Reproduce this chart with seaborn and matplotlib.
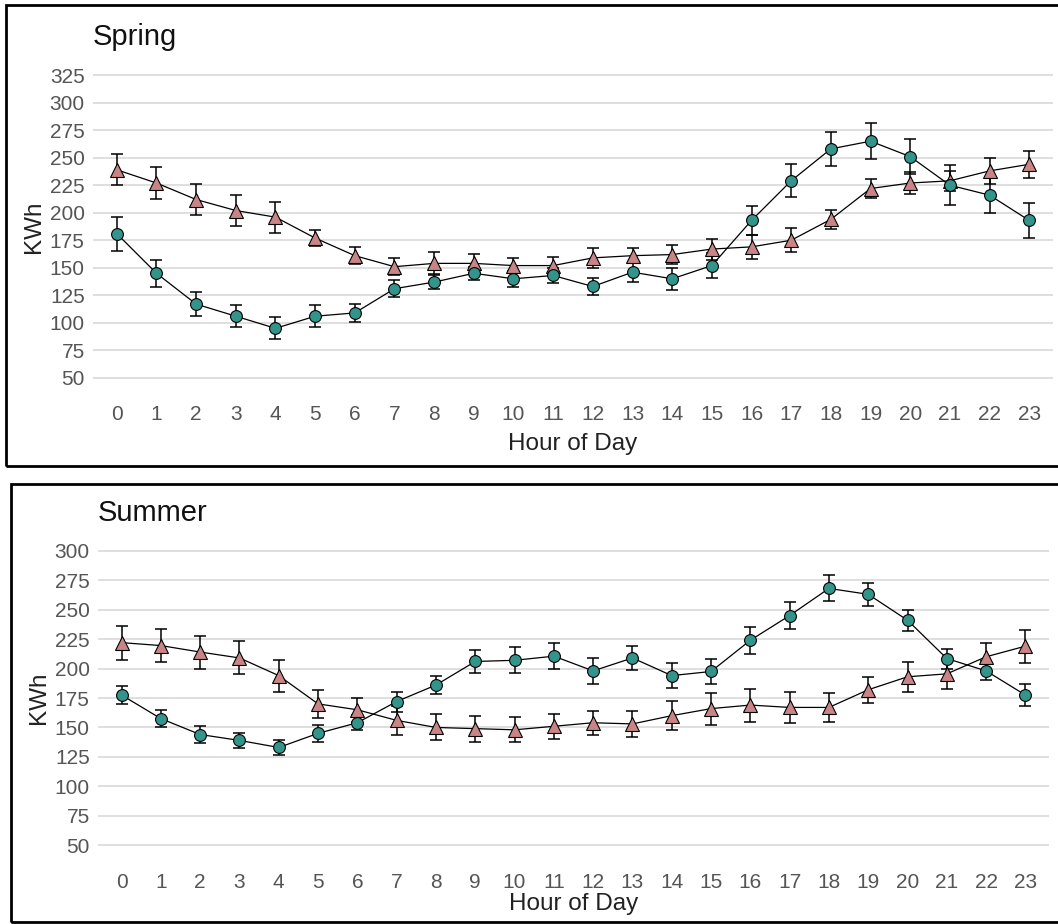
import numpy as np
import pandas as pd
import matplotlib
matplotlib.use("Agg")
import matplotlib.pyplot as plt
from matplotlib.patches import Rectangle
import seaborn as sns

# -------- data --------
HOURS = list(range(24))

spring_red = [239, 227, 212, 202, 196, 177, 161, 151, 154, 154, 152, 152,
              159, 161, 162, 167, 169, 175, 194, 222, 227, 229, 238, 244]
spring_red_err = [14, 14.5, 14, 14, 14, 7, 7.5, 7.5, 10, 8.5, 7, 7.5,
                  9, 7, 8.5, 9.5, 11, 11, 8.5, 8.5, 10, 9, 12, 12.5]
spring_green = [181, 145, 117, 106, 95, 106, 109, 131, 137, 145, 140, 143,
                133, 146, 140, 152, 193, 229, 258, 265, 251, 225, 216, 193]
spring_green_err = [15.5, 12.5, 11, 10, 10, 10, 8, 7.5, 6.5, 6, 7.5, 6.5,
                    7.5, 8.5, 10, 11, 13, 15, 15.5, 16.5, 16, 18, 16, 15.5]

summer_red = [222, 219.5, 214, 209, 194, 170, 165, 156, 150, 149, 148, 151,
              154, 153, 160, 166, 169, 167, 167, 182, 193, 195.5, 210, 219]
summer_red_err = [14.5, 14, 14, 14, 13.5, 12, 10, 12, 11, 11, 10.5, 10.5,
                  10, 11, 12.5, 13.5, 14, 13, 12.5, 11, 12.5, 13, 12, 14]
summer_green = [177.5, 157.5, 144, 139, 133, 145, 154, 172, 186, 206, 207, 210.5,
                198, 209, 194, 197.5, 224, 245, 268, 263, 241, 208.5, 198, 177.5]
summer_green_err = [8, 7.5, 7, 6.5, 6, 7, 6.5, 8.5, 7.5, 10, 11, 11,
                    11, 10.5, 10.5, 10.5, 11.5, 11.5, 11, 9.5, 9, 8.5, 8, 9]

SPRING_TICKS = list(range(50, 326, 25))
SUMMER_TICKS = list(range(50, 301, 25))

RED = "#c98585"
TEAL = "#33948c"
# -----------------------------------------------

sns.set_theme(style="white")
plt.rcParams["font.family"] = ["Liberation Sans", "DejaVu Sans"]

W, H = 1058, 924
fig = plt.figure(figsize=(W / 100, H / 100), dpi=100)


def px_axes(left, top, right, bottom):
    return fig.add_axes([left / W, 1 - bottom / H, (right - left) / W, (bottom - top) / H])


def draw_panel(ax, title, red, red_err, green, green_err, ticks, xpad):
    df = pd.DataFrame({"hour": HOURS, "red": red, "red_err": red_err,
                       "green": green, "green_err": green_err})
    for col, err, colour, mk, ms in [("red", "red_err", RED, "^", 10),
                                     ("green", "green_err", TEAL, "o", 8.5)]:
        ax.errorbar(df["hour"], df[col], yerr=df[err], fmt="none",
                    ecolor="black", elinewidth=1.1, capsize=4.5, capthick=1.1, zorder=3)
        sns.lineplot(data=df, x="hour", y=col, ax=ax, color="black", linewidth=0.9,
                     marker=mk, markersize=ms, markerfacecolor=colour,
                     markeredgecolor="black", markeredgewidth=0.8, zorder=4)

    lo, hi = ticks[0], ticks[-1]
    pad = (hi - lo) * 0.05
    ax.set_ylim(lo - pad, hi + pad)
    ax.set_xlim(-0.6, 23.6)
    ax.set_yticks(ticks)
    ax.set_xticks(HOURS)
    ax.set_xticklabels([str(h) for h in HOURS])
    ax.grid(axis="y", color="#d9d9d9", linewidth=1.2)
    ax.grid(axis="x", visible=False)
    for s in ax.spines.values():
        s.set_visible(False)
    ax.tick_params(axis="both", which="both", length=3, width=1, color="#555555",
                   labelcolor="#555555", labelsize=15, pad=3)
    ax.tick_params(axis="x", pad=6)
    ax.set_xlabel("Hour of Day", fontsize=17.5, color="#222222", labelpad=xpad)
    ax.set_ylabel("KWh", fontsize=17.5, color="#222222", labelpad=3)
    ax.set_title(title, loc="left", fontsize=21, color="#111111", pad=11)


ax1 = px_axes(93, 60, 1053, 393)
draw_panel(ax1, "Spring", spring_red, spring_red_err, spring_green, spring_green_err,
           SPRING_TICKS, 6)

ax2 = px_axes(98, 536, 1049, 860)
draw_panel(ax2, "Summer", summer_red, summer_red_err, summer_green, summer_green_err,
           SUMMER_TICKS, 1)

# black frames round each panel
for (l, t, r, b) in [(6, 5, 1062, 466), (11, 484, 1062, 922)]:
    fig.patches.append(Rectangle((l / W, 1 - b / H), (r - l) / W, (b - t) / H,
                                 transform=fig.transFigure, fill=False,
                                 edgecolor="black", linewidth=2))

fig.savefig("out.png", dpi=100)
